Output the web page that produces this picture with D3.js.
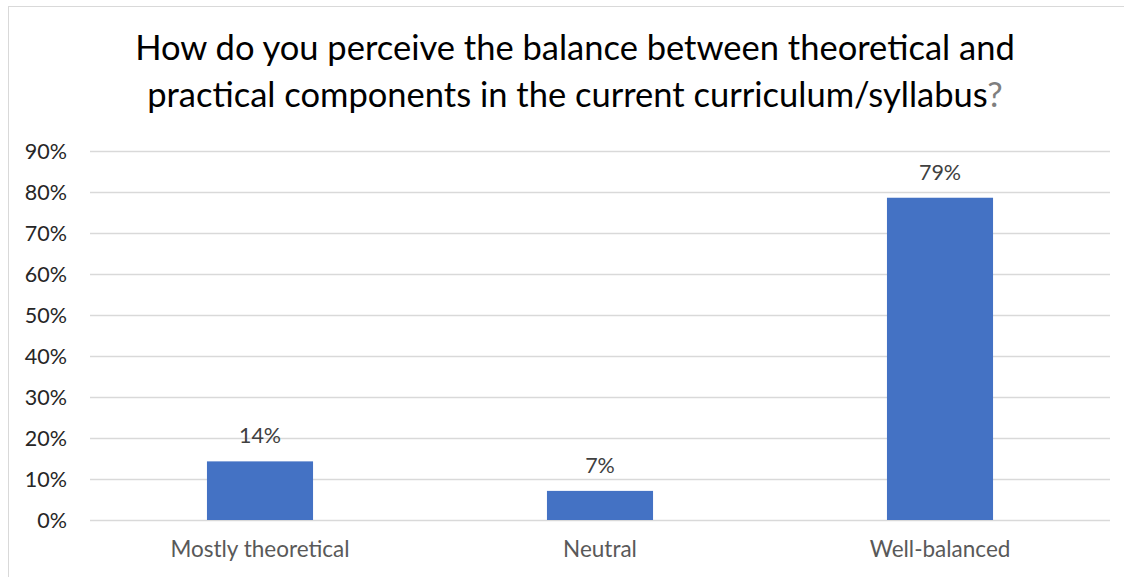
<!DOCTYPE html>
<html><head><meta charset="utf-8">
<script src="https://cdn.jsdelivr.net/npm/d3@7/dist/d3.min.js"></script>
<style>html,body{margin:0;padding:0;background:#fff;}svg{display:block;}</style>
</head><body>
<svg id="c" width="1124" height="577"></svg>
<script>
const categories = ["Mostly theoretical", "Neutral", "Well-balanced"];
const values = [14.3, 7.1, 78.6];
const valueLabels = ["14%", "7%", "79%"];
const yTicks = [0, 10, 20, 30, 40, 50, 60, 70, 80, 90];
const titleLines = ["How do you perceive the balance between theoretical and", "practical components in the current curriculum/syllabus"];

const svg = d3.select("#c");
const font = "Lato, 'Open Sans', sans-serif";
svg.append("rect").attr("x", 8.5).attr("y", 6.5).attr("width", 1120).attr("height", 580)
  .attr("fill", "#fff").attr("stroke", "#d9d9d9").attr("stroke-width", 1);

const m = {left: 90, right: 1110, top: 151, bottom: 520};
const x = d3.scaleBand().domain(categories).range([m.left, m.right]).paddingInner(0.688).paddingOuter(0.344);
const y = d3.scaleLinear().domain([0, 90]).range([m.bottom, m.top]);

// gridlines
svg.append("g").selectAll("line").data(yTicks).join("line")
  .attr("x1", m.left).attr("x2", m.right)
  .attr("y1", d => Math.round(y(d)) + 0.5).attr("y2", d => Math.round(y(d)) + 0.5)
  .attr("stroke", "#d9d9d9").attr("stroke-width", 1.3);

// y axis labels
const yAxis = d3.axisLeft(y).tickValues(yTicks).tickFormat(d => d + "%").tickSize(0).tickPadding(0);
const ya = svg.append("g").attr("transform", "translate(67,0)").call(yAxis);
ya.select(".domain").remove();
ya.selectAll("text").attr("font-family", font).attr("font-size", 21.5).attr("fill", "#262626").attr("dy", "0.36em");

// bars
svg.append("g").selectAll("rect").data(values).join("rect")
  .attr("x", (d, i) => x(categories[i])).attr("width", x.bandwidth())
  .attr("y", d => y(d)).attr("height", d => y(0) - y(d)).attr("fill", "#4472c4");

// data labels
svg.append("g").selectAll("text").data(values).join("text")
  .attr("x", (d, i) => x(categories[i]) + x.bandwidth() / 2).attr("y", d => y(d) - 18)
  .attr("text-anchor", "middle").attr("font-family", font).attr("font-size", 21.5).attr("fill", "#404040")
  .text((d, i) => valueLabels[i]);

// x axis labels
const xAxis = d3.axisBottom(x).tickSize(0).tickPadding(0);
const xa = svg.append("g").attr("transform", "translate(0,541)").call(xAxis);
xa.select(".domain").remove();
xa.selectAll("text").attr("font-family", font).attr("font-size", 22.5).attr("fill", "#595959").attr("dy", "0.71em");

// title
const t1 = svg.append("text").attr("x", 575).attr("y", 60).attr("text-anchor", "middle")
  .attr("font-family", font).attr("font-size", 30).attr("fill", "#000").text(titleLines[0]);
const t2 = svg.append("text").attr("x", 575).attr("y", 107).attr("text-anchor", "middle")
  .attr("font-family", font).attr("font-size", 30).attr("fill", "#000");
t2.append("tspan").text(titleLines[1]);
t2.append("tspan").attr("fill", "#7f7f7f").text("?");
// fit widths
const w1 = t1.node().getComputedTextLength();
const fs = 30 * 880 / w1;
t1.attr("font-size", fs); t2.attr("font-size", fs);
</script>
</body></html>
